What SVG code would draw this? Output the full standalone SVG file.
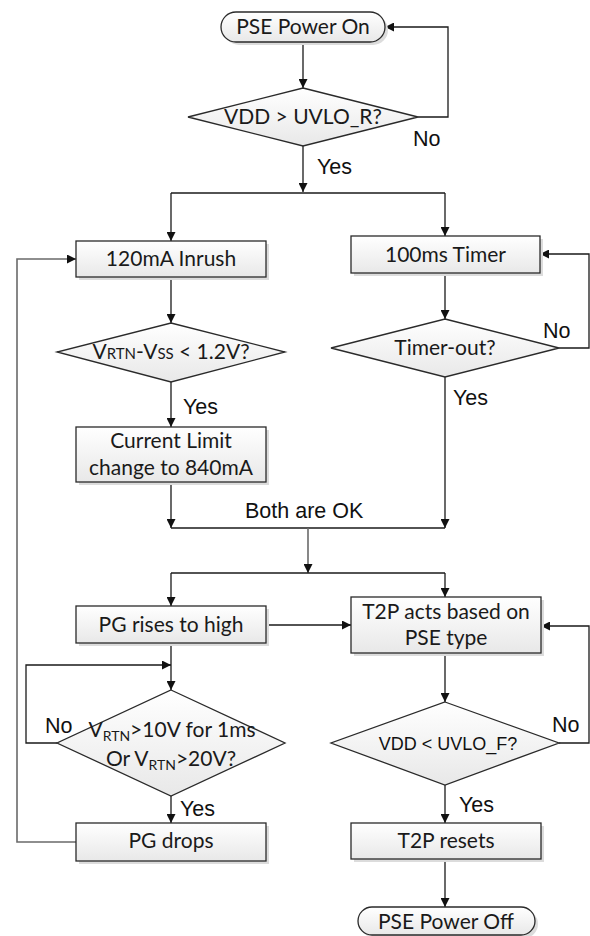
<svg xmlns="http://www.w3.org/2000/svg" width="590" height="936" viewBox="0 0 590 936">
<defs>
  <linearGradient id="gfill" x1="0" y1="0" x2="0" y2="1">
    <stop offset="0" stop-color="#ffffff"/>
    <stop offset="1" stop-color="#e8e8e8"/>
  </linearGradient>
  <marker id="arr" viewBox="0 0 10 10" refX="10" refY="5" markerWidth="9" markerHeight="9" markerUnits="userSpaceOnUse" orient="auto">
    <path d="M0,0 L10,5 L0,10 z" fill="#111"/>
  </marker>
</defs>
<style>
  .shape { fill: url(#gfill); stroke: #2a2a2a; stroke-width: 1.3; }
  .shadow { fill: #dcdcdc; stroke: none; }
  .t { font-family: Lato, "Open Sans", "Noto Sans", sans-serif; font-size: 21px; fill: #1a1a1a; text-anchor: middle; }
  .a { font-family: "Liberation Sans", Arial, sans-serif; font-size: 21.5px; fill: #111; }
  .c { fill: none; stroke: #1a1a1a; stroke-width: 1.3; }
  .cg { fill: none; stroke: #6a6a6a; stroke-width: 1.6; }
</style>
<rect width="590" height="936" fill="#ffffff"/>

<g id="connectors">
  <path class="c" d="M303,42 V88" marker-end="url(#arr)"/>
  <path class="c" d="M418,117 H448 V27 H385" marker-end="url(#arr)"/>
  <path class="c" d="M303,146 V192" marker-end="url(#arr)"/>
  <path class="c" d="M171,193 H445"/>
  <path class="c" d="M171,193 V241" marker-end="url(#arr)"/>
  <path class="c" d="M445,193 V236" marker-end="url(#arr)"/>
  <path class="c" d="M171,277 V323" marker-end="url(#arr)"/>
  <path class="c" d="M171,382 V427" marker-end="url(#arr)"/>
  <path class="c" d="M171,482 V528" marker-end="url(#arr)"/>
  <path class="c" d="M445,273 V319" marker-end="url(#arr)"/>
  <path class="c" d="M559,348 H589 V254 H540" marker-end="url(#arr)"/>
  <path class="c" d="M445,377 V528" marker-end="url(#arr)"/>
  <path class="c" d="M171,528 H445"/>
  <path class="cg" d="M308,528 V573" marker-end="url(#arr)"/>
  <path class="c" d="M171,573 H445"/>
  <path class="c" d="M171,573 V606" marker-end="url(#arr)"/>
  <path class="c" d="M445,573 V597" marker-end="url(#arr)"/>
  <path class="c" d="M266,625 H351" marker-end="url(#arr)"/>
  <path class="c" d="M171,643 V690" marker-end="url(#arr)"/>
  <path class="c" d="M57,743 H26 V665 H171" marker-end="url(#arr)"/>
  <path class="c" d="M171,796 V823" marker-end="url(#arr)"/>
  <path class="cg" d="M76,842 H17 V259 H76" marker-end="url(#arr)"/>
  <path class="c" d="M445,653 V702" marker-end="url(#arr)"/>
  <path class="c" d="M559,743 H589 V626 H541" marker-end="url(#arr)"/>
  <path class="c" d="M445,785 V823" marker-end="url(#arr)"/>
  <path class="c" d="M445,859 V907" marker-end="url(#arr)"/>
</g>

<g id="labels">
  <text class="a" x="413" y="146">No</text>
  <text class="a" x="317" y="174">Yes</text>
  <text class="a" x="543" y="338">No</text>
  <text class="a" x="453" y="405">Yes</text>
  <text class="a" x="183" y="414">Yes</text>
  <text class="a" x="245" y="518">Both are OK</text>
  <text class="a" x="45" y="733">No</text>
  <text class="a" x="180" y="816">Yes</text>
  <text class="a" x="552" y="732">No</text>
  <text class="a" x="459" y="812">Yes</text>
</g>

<g id="n_start">
  <rect class="shadow" x="224" y="15" width="164" height="30" rx="15"/>
  <rect class="shape" x="221" y="12" width="164" height="30" rx="15"/>
  <text class="t" x="303" y="34">PSE Power On</text>
</g>

<g id="d_uvlo_r">
  <polygon class="shape" points="303,88 418,117 303,146 188,117"/>
  <text class="t" x="303" y="124">VDD &gt; UVLO_R?</text>
</g>

<g id="b_inrush">
  <rect class="shadow" x="79" y="244" width="190" height="36"/>
  <rect class="shape" x="76" y="241" width="190" height="36"/>
  <text class="t" x="171" y="266">120mA Inrush</text>
</g>

<g id="b_timer">
  <rect class="shadow" x="354" y="239" width="189" height="37"/>
  <rect class="shape" x="351" y="236" width="189" height="37"/>
  <text class="t" x="445.5" y="262">100ms Timer</text>
</g>

<g id="d_vrtn">
  <polygon class="shape" points="171,323 285,352 171,382 57,352"/>
  <text class="t" x="171" y="359">V<tspan font-size="15">RTN</tspan>-V<tspan font-size="15">SS</tspan> &lt; 1.2V?</text>
</g>

<g id="d_timer">
  <polygon class="shape" points="445,319 559,348 445,377 331,348"/>
  <text class="t" x="445" y="355">Timer-out?</text>
</g>

<g id="b_climit">
  <rect class="shadow" x="79" y="430" width="190" height="55"/>
  <rect class="shape" x="76" y="427" width="190" height="55"/>
  <text class="t" x="171" y="448">Current Limit</text>
  <text class="t" x="171" y="475">change to 840mA</text>
</g>

<g id="b_pg">
  <rect class="shadow" x="79" y="609" width="190" height="37"/>
  <rect class="shape" x="76" y="606" width="190" height="37"/>
  <text class="t" x="171" y="632">PG rises to high</text>
</g>

<g id="b_t2p">
  <rect class="shadow" x="354" y="600" width="190" height="56"/>
  <rect class="shape" x="351" y="597" width="190" height="56"/>
  <text class="t" x="446" y="619">T2P acts based on</text>
  <text class="t" x="446" y="645">PSE type</text>
</g>

<g id="d_pg">
  <polygon class="shape" points="171,690 285,743 171,796 57,743"/>
  <text class="t" x="172" y="737">V<tspan font-size="14" dy="4">RTN</tspan><tspan dy="-4">&gt;10V for 1ms</tspan></text>
  <text class="t" x="171" y="766">Or V<tspan font-size="14" dy="4">RTN</tspan><tspan dy="-4">&gt;20V?</tspan></text>
</g>

<g id="d_uvlo_f">
  <polygon class="shape" points="445,702 559,743 445,785 331,743"/>
  <text x="448" y="750" font-family="Liberation Sans, Arial, sans-serif" font-size="18" fill="#111" text-anchor="middle">VDD &lt; UVLO_F?</text>
</g>

<g id="b_pgdrop">
  <rect class="shadow" x="79" y="826" width="190" height="38"/>
  <rect class="shape" x="76" y="823" width="190" height="38"/>
  <text class="t" x="171" y="848">PG drops</text>
</g>

<g id="b_t2preset">
  <rect class="shadow" x="354" y="826" width="190" height="36"/>
  <rect class="shape" x="351" y="823" width="190" height="36"/>
  <text class="t" x="446" y="848">T2P resets</text>
</g>

<g id="n_end">
  <rect class="shadow" x="361" y="910" width="177" height="28" rx="14"/>
  <rect class="shape" x="358" y="907" width="177" height="28" rx="14"/>
  <text class="t" x="446" y="929">PSE Power Off</text>
</g>
</svg>
